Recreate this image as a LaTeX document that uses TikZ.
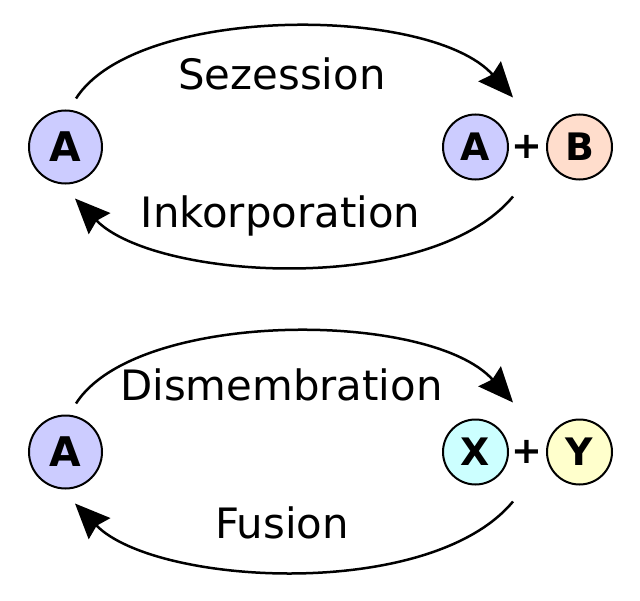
\documentclass[tikz,border=0pt]{standalone}
\usepackage{fontspec}
\setmainfont{DejaVu Sans}
\usetikzlibrary{arrows.meta}
\definecolor{cA}{HTML}{CCCCFF}
\definecolor{cB}{HTML}{FFDDCC}
\definecolor{cX}{HTML}{CCFFFF}
\definecolor{cY}{HTML}{FFFFCC}
\tikzset{
  bigcirc/.style={circle, draw=black, line width=2bp, minimum size=73bp, inner sep=0pt, font=\fontsize{41}{41}\selectfont\bfseries},
  smallcirc/.style={circle, draw=black, line width=2bp, minimum size=65bp, inner sep=0pt, font=\fontsize{38}{38}\selectfont\bfseries},
  plus/.style={inner sep=0pt, font=\fontsize{37}{37}\selectfont\bfseries},
  lbl/.style={anchor=base, inner sep=0pt, font=\fontsize{42}{42}\selectfont},
  arr/.style={line width=2.5bp, -{Stealth[length=35bp, width=30bp, inset=4bp]}}
}
\begin{document}
\begin{tikzpicture}[x=1bp, y=-1bp]
\useasboundingbox (0,0) rectangle (640,601);
% top
\node[bigcirc, fill=cA] (a1) at (65.5,147) {A};
\node[smallcirc, fill=cA] (a2) at (475.5,147) {A};
\node[plus] (p1) at (527,147) {+};
\node[smallcirc, fill=cB] (b1) at (579.5,147) {B};
\node[lbl] (sez) at (282,90) {Sezession};
\node[lbl] (ink) at (280.5,227) {Inkorporation};
\draw[arr] ([xshift=10.5bp, yshift=11bp]a1.north) .. controls +(60,-94) and +(-83,-93) .. ([xshift=37.5bp, yshift=16bp]a2.north);
\draw[arr] ([xshift=37.5bp, yshift=-16bp]a2.south) .. controls +(-83,100) and +(80,82) .. ([xshift=9.5bp, yshift=-14bp]a1.south);
% bottom
\node[bigcirc, fill=cA] (a3) at (65.5,452) {A};
\node[smallcirc, fill=cX] (x1) at (475.5,452) {X};
\node[plus] (p2) at (527,452) {+};
\node[smallcirc, fill=cY] (y1) at (579.5,452) {Y};
\node[lbl] (dis) at (281.5,400) {Dismembration};
\node[lbl] (fus) at (282,538) {Fusion};
\draw[arr] ([xshift=10.5bp, yshift=11bp]a3.north) .. controls +(60,-94) and +(-83,-93) .. ([xshift=37.5bp, yshift=16bp]x1.north);
\draw[arr] ([xshift=37.5bp, yshift=-16bp]x1.south) .. controls +(-83,100) and +(80,82) .. ([xshift=9.5bp, yshift=-14bp]a3.south);
\end{tikzpicture}
\end{document}
